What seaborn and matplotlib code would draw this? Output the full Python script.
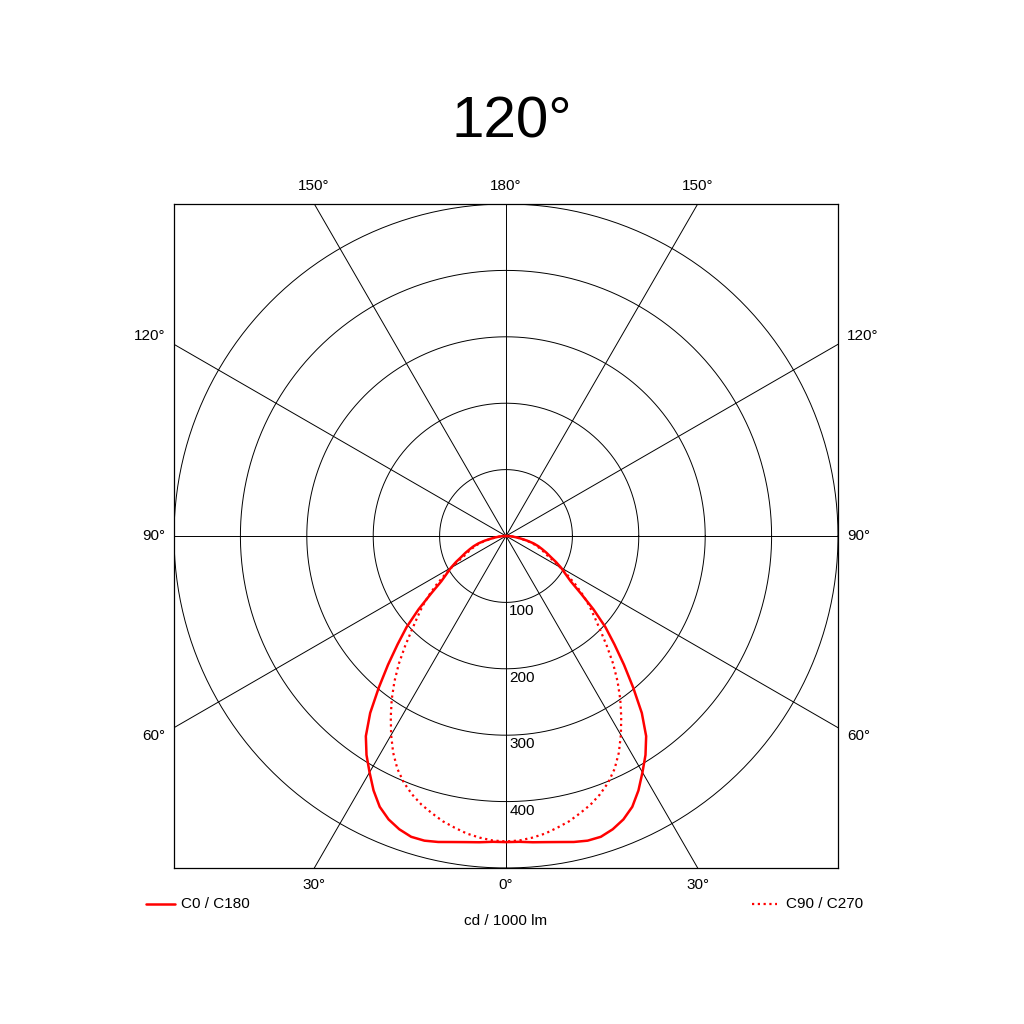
## photometric polar diagram (luminous intensity distribution), drawn with seaborn on a plain cartesian axes

import numpy as np
import pandas as pd
import matplotlib
matplotlib.use("Agg")
import matplotlib.pyplot as plt
import seaborn as sns

## readings, half curve from 0 deg (down) to 90 deg, in cd / 1000 lm
angles = [0, 2.5, 5, 7.5, 10, 12.5, 15, 17.5, 20, 22.5, 25, 27.5, 30, 32.5, 35, 37.5,
          40, 42.5, 45, 47.5, 50, 52.5, 55, 57.5, 60, 62.5, 65, 67.5, 70, 72.5, 75,
          77.5, 80, 82.5, 85, 87.5, 90]
c0_c180 = [461, 461, 463, 465, 468, 472, 475, 475, 470, 462, 450, 432, 411, 391, 368, 336,
           298, 263, 231, 203, 172, 142, 119, 106, 96, 85, 74, 66, 58, 51, 43,
           33, 23, 16, 10, 5, 0]
c90_c270 = [460, 459, 456, 452, 446, 440, 432, 424, 414, 402, 387, 368, 346, 323, 300, 276,
            251, 225, 201, 181, 164, 146, 128, 110, 94, 80, 68, 61, 54, 47, 40,
            31, 22, 16, 10, 5, 0]

rings = [100, 200, 300, 400, 500]
ring_labels = ["100", "200", "300", "400"]
spokes = [0, 30, 60, 90, 120, 150]
title = "120°"
unit = "cd / 1000 lm"


def to_xy(ang, val):
    # mirror the half curve, 0 deg points straight down
    a = np.array(ang, dtype=float)
    v = np.array(val, dtype=float)
    a = np.concatenate([-a[::-1], a[1:]])
    v = np.concatenate([v[::-1], v[1:]])
    t = np.radians(a)
    return pd.DataFrame({"x": v * np.sin(t), "y": -v * np.cos(t)})


sns.set_style("white")
plt.rcParams["font.family"] = ["Liberation Sans", "DejaVu Sans"]
plt.rcParams["text.color"] = "black"

fig = plt.figure(figsize=(10.24, 10.24), dpi=100)
ax = fig.add_axes([174 / 1024, 1 - 868 / 1024, 664 / 1024, 664 / 1024])
R = rings[-1]
ax.set_xlim(-R, R)
ax.set_ylim(-R, R)
ax.set_aspect("equal")
ax.set_xticks([])
ax.set_yticks([])
for s in ax.spines.values():
    s.set_color("black")
    s.set_linewidth(0.9)

## grid: circles and spokes
th = np.linspace(0, 2 * np.pi, 400)
for r in rings:
    ax.plot(r * np.cos(th), r * np.sin(th), color="black", lw=0.7, zorder=1)
for sp in spokes:
    t = np.radians(sp)
    L = 2000
    ax.plot([-L * np.sin(t), L * np.sin(t)], [L * np.cos(t), -L * np.cos(t)],
            color="black", lw=0.7, zorder=1)

## curves
d0 = to_xy(angles, c0_c180)
d90 = to_xy(angles, c90_c270)
sns.lineplot(data=d0, x="x", y="y", sort=False, estimator=None, color="red",
             lw=1.8, ax=ax, zorder=3)
sns.lineplot(data=d90, x="x", y="y", sort=False, estimator=None, color="red",
             lw=1.6, ax=ax, zorder=3)
ax.lines[-1].set_linestyle((0, (1, 1.6)))
ax.set_xlabel("")
ax.set_ylabel("")

## ring labels along the 0 deg line
for r, lab in zip(rings, ring_labels):
    ax.text(5, -r - 3, lab, ha="left", va="top", fontsize=11)

## angle labels around the box
px = R / 332.0
fs = 11
ax.text(0, R + 18 * px, "180°", ha="center", va="center", fontsize=fs)
ax.text(-192 * px, R + 18 * px, "150°", ha="center", va="center", fontsize=fs)
ax.text(192 * px, R + 18 * px, "150°", ha="center", va="center", fontsize=fs)
ax.text(0, -R - 17 * px, "0°", ha="center", va="center", fontsize=fs)
ax.text(-192 * px, -R - 17 * px, "30°", ha="center", va="center", fontsize=fs)
ax.text(192 * px, -R - 17 * px, "30°", ha="center", va="center", fontsize=fs)
for lab, yy in [("120°", 200), ("90°", 0), ("60°", -200)]:
    ax.text(-R - 9 * px, yy * px, lab, ha="right", va="center", fontsize=fs)
    ax.text(R + 9 * px, yy * px, lab, ha="left", va="center", fontsize=fs)

## title, legend, unit
fig.text(512 / 1024, 1 - 123 / 1024, title, ha="center", va="center", fontsize=42)
y_leg = 1 - 904 / 1024
fig.add_artist(plt.Line2D([146 / 1024, 175 / 1024], [y_leg, y_leg], color="red", lw=1.8))
fig.text(181 / 1024, y_leg, "C0 / C180", ha="left", va="center", fontsize=fs)
fig.add_artist(plt.Line2D([752 / 1024, 777 / 1024], [y_leg, y_leg], color="red", lw=1.6,
                          linestyle=(0, (1, 1.6))))
fig.text(786 / 1024, y_leg, "C90 / C270", ha="left", va="center", fontsize=fs)
fig.text(506 / 1024, 1 - 921 / 1024, unit, ha="center", va="center", fontsize=fs)

fig.savefig("out.png", dpi=100, facecolor="white")
